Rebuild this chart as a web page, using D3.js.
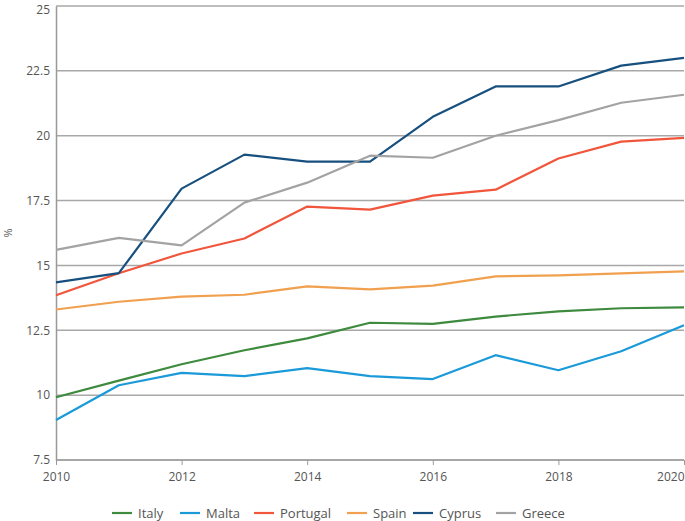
<!DOCTYPE html>
<html>
<head>
<meta charset="utf-8">
<script src="https://cdn.jsdelivr.net/npm/d3@7"></script>
<style>
  body { margin: 0; background: #fff; }
  #chart text { font-family: "Open Sans", "DejaVu Sans", sans-serif; fill: #555; }
</style>
</head>
<body>
<div id="chart"></div>
<script>
"use strict";

var years = [2010, 2011, 2012, 2013, 2014, 2015, 2016, 2017, 2018, 2019, 2020];
var countries = ["Italy", "Malta", "Portugal", "Spain", "Cyprus", "Greece"];
var colors = ["#3e8a3e", "#1a9ad8", "#f1553b", "#f0a04e", "#17507f", "#a3a3a3"];

var italy = [9.92, 10.56, 11.19, 11.73, 12.19, 12.79, 12.75, 13.03, 13.23, 13.35, 13.38];
var malta = [9.04, 10.38, 10.86, 10.73, 11.04, 10.73, 10.62, 11.54, 10.96, 11.69, 12.69];
var portugal = [13.85, 14.7, 15.46, 16.04, 17.27, 17.15, 17.69, 17.92, 19.12, 19.77, 19.92];
var spain = [13.3, 13.6, 13.8, 13.87, 14.19, 14.08, 14.22, 14.58, 14.62, 14.69, 14.77];
var cyprus = [14.35, 14.7, 17.96, 19.27, 19.0, 19.0, 20.73, 21.9, 21.9, 22.7, 23.0];
var greece = [15.6, 16.06, 15.77, 17.42, 18.19, 19.23, 19.15, 20.0, 20.6, 21.27, 21.58];

var yTicks = [7.5, 10, 12.5, 15, 17.5, 20, 22.5, 25];
var xTicks = [2010, 2012, 2014, 2016, 2018, 2020];

var series = [italy, malta, portugal, spain, cyprus, greece];

var margin = { top: 6, right: 1, bottom: 61, left: 56 };
var width = 685 - margin.left - margin.right;
var height = 521 - margin.top - margin.bottom;

var svg = d3.select("#chart").append("svg")
  .attr("width", 685).attr("height", 521)
  .append("g").attr("transform", "translate(" + margin.left + "," + margin.top + ")");

var xScale = d3.scaleLinear().domain([2010, 2020]).range([0, width]);
var yScale = d3.scaleLinear().domain([7.5, 25]).range([height, 0]);

// grid lines
svg.append("g").selectAll("line").data(yTicks).enter().append("line")
  .attr("x1", 0).attr("x2", width)
  .attr("y1", function (d) { return yScale(d); })
  .attr("y2", function (d) { return yScale(d); })
  .attr("stroke", function (d) { return d === 7.5 ? "#8a8a8a" : "#a8a8a8"; })
  .attr("stroke-width", 1.5);

var yAxis = d3.axisLeft(yScale).tickValues(yTicks).tickSize(0).tickPadding(6)
  .tickFormat(function (d) { return d3.format("")(d); });
var gy = svg.append("g").call(yAxis);
gy.select(".domain").attr("stroke", "#999").attr("stroke-width", 1.5);
gy.selectAll("text").style("font-size", "12px");
gy.selectAll(".tick").filter(function (d) { return d === 25; }).select("text").attr("dy", "0.6em");

var xAxis = d3.axisBottom(xScale).tickValues(xTicks).tickSize(5).tickPadding(7).tickFormat(d3.format("d"));
var gx = svg.append("g").attr("transform", "translate(0," + height + ")").call(xAxis);
gx.select(".domain").remove();
gx.selectAll("line").attr("stroke", "#999");
gx.selectAll("text").style("font-size", "12px");
gx.selectAll(".tick").filter(function (d) { return d === 2020; }).select("text")
  .attr("text-anchor", "end").attr("x", 0);

svg.append("text").attr("text-anchor", "middle")
  .attr("transform", "translate(-44," + yScale(16.25) + ")rotate(-90)")
  .style("font-size", "11px").text("%");

var line = d3.line()
  .x(function (d, i) { return xScale(years[i]); })
  .y(function (d) { return yScale(d); });

svg.selectAll(".series").data(series).enter().append("path")
  .attr("class", "series")
  .attr("fill", "none")
  .attr("stroke", function (d, i) { return colors[i]; })
  .attr("stroke-width", 2.2)
  .attr("stroke-linejoin", "round")
  .attr("d", line);

// legend
var legendX = [112, 180, 254, 347, 413, 496];
var legend = svg.append("g").attr("transform", "translate(" + (-margin.left) + "," + (513 - margin.top) + ")");
var items = legend.selectAll("g").data(countries).enter().append("g")
  .attr("transform", function (d, i) { return "translate(" + legendX[i] + ",0)"; });
items.append("line").attr("x1", 0).attr("x2", 20).attr("y1", 0).attr("y2", 0)
  .attr("stroke", function (d, i) { return colors[i]; }).attr("stroke-width", 2.2);
items.append("text").attr("x", 26).attr("y", 4.5)
  .style("font-size", "13px").text(function (d) { return d; });
</script>
</body>
</html>
